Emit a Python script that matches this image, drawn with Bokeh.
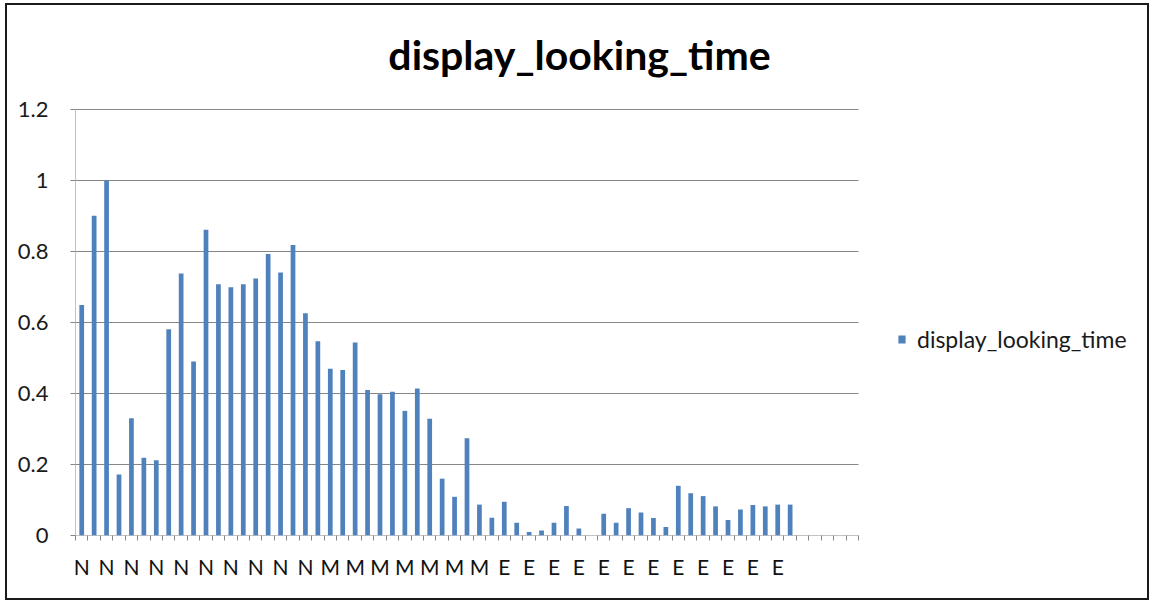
from bokeh.plotting import figure
from bokeh.models import (ColumnDataSource, FixedTicker, NumeralTickFormatter,
                          Label, Legend, LegendItem, Range1d)
from bokeh.embed import file_html
from bokeh.resources import INLINE

# ---- data -------------------------------------------------------------
title_text = "display_looking_time"
series_name = "display_looking_time"
categories = ["N"] * 20 + ["M"] * 14 + ["E"] * 24 + [""] * 5
values = [0.649, 0.901, 1.000, 0.172, 0.330, 0.219, 0.212, 0.581, 0.738, 0.490,
          0.861, 0.708, 0.699, 0.708, 0.724, 0.793, 0.741, 0.818, 0.626, 0.547,
          0.470, 0.466, 0.544, 0.410, 0.398, 0.405, 0.351, 0.414, 0.329, 0.160,
          0.109, 0.274, 0.087, 0.050, 0.095, 0.036, 0.010, 0.014, 0.036, 0.083,
          0.020, 0.000, 0.061, 0.036, 0.077, 0.065, 0.049, 0.024, 0.140, 0.119,
          0.111, 0.082, 0.044, 0.073, 0.086, 0.082, 0.087, 0.087]
y_ticks = [0, 0.2, 0.4, 0.6, 0.8, 1.0, 1.2]

# ---- layout constants (pixels) ---------------------------------------
FONT = "Lato"
W, H = 1144, 597               # canvas size (border drawn around it)
CW, CH = W, H
FL = 68                        # frame left (canvas px)
FR = CW - 2                    # frame right
FT = 0                         # frame top
FB = 530                       # frame bottom = value 0
PLOT_W = 783                   # width of the category area
PLOT_H = 426                   # height of 0..1.2

n_cat = len(categories)
y_max = y_ticks[-1]
x_lo = 0.5
x_hi = x_lo + n_cat * (FR - FL) / PLOT_W
y_hi = y_max * (FB - FT) / PLOT_H

xs = list(range(1, len(values) + 1))
src = ColumnDataSource(dict(x=xs, top=values))

p = figure(width=W, height=H, output_backend="svg", toolbar_location=None,
           x_range=Range1d(x_lo, x_hi), y_range=Range1d(0, y_hi),
           min_border_left=FL, min_border_right=CW - FR,
           min_border_top=FT, min_border_bottom=CH - FB,
           background_fill_color="white", border_fill_color="white")
p.styles = {"border": "2px solid #1a1a1a", "margin-left": "5px", "margin-top": "3px"}
p.outline_line_color = None
p.xgrid.grid_line_color = None
p.ygrid.grid_line_color = None

GRID = "#868686"
cat_end = x_lo + n_cat
# horizontal gridlines (incl. the category axis at 0)
p.segment(x0=[x_lo] * len(y_ticks), x1=[cat_end] * len(y_ticks),
          y0=y_ticks, y1=y_ticks, line_color=GRID, line_width=1)
# value axis line
p.segment(x0=[x_lo], x1=[x_lo], y0=[0], y1=[y_max], line_color=GRID, line_width=1)

r = p.vbar(x="x", top="top", width=0.38, source=src,
           fill_color="#4F81BD", line_color=None)

# y axis
p.yaxis.ticker = FixedTicker(ticks=y_ticks)
p.yaxis.formatter = NumeralTickFormatter(format="0.[0]")
p.yaxis.axis_line_color = None
p.yaxis.major_tick_line_color = GRID
p.yaxis.major_tick_out = 5
p.yaxis.major_tick_in = 0
p.yaxis.minor_tick_line_color = None
p.yaxis.major_label_text_font = FONT
p.yaxis.major_label_text_font_size = "22px"
p.yaxis.major_label_text_color = "#1a1a1a"
p.yaxis.major_label_standoff = 22

# x axis
label_pos = list(range(1, n_cat + 1, 2))
p.xaxis.ticker = FixedTicker(ticks=label_pos,
                             minor_ticks=[i + 0.5 for i in range(0, n_cat + 1)])
p.xaxis.major_label_overrides = {i: categories[i - 1] for i in label_pos}
p.xaxis.axis_line_color = None
p.xaxis.major_tick_line_color = None
p.xaxis.minor_tick_line_color = GRID
p.xaxis.minor_tick_out = 5
p.xaxis.minor_tick_in = 0
p.xaxis.major_label_text_font = FONT
p.xaxis.major_label_text_font_size = "21px"
p.xaxis.major_label_text_color = "#111111"
p.xaxis.major_label_standoff = 12

# title (screen units: from frame bottom-left, y upward)
p.add_layout(Label(x=504, y=FB - 49, x_units="screen", y_units="screen",
                   text=title_text, text_font=FONT, text_font_style="bold",
                   text_font_size="41px", text_align="center",
                   text_baseline="alphabetic", text_color="#000000"))

# legend
legend = Legend(items=[LegendItem(label=series_name, renderers=[r])],
                location=(822, 182), padding=0, margin=0,
                glyph_width=9, glyph_height=10, label_standoff=11,
                label_text_font=FONT, label_text_font_size="23px",
                label_text_color="#1a1a1a",
                border_line_color=None, background_fill_alpha=0)
p.add_layout(legend)

open("out.html", "w").write(file_html(p, INLINE))
